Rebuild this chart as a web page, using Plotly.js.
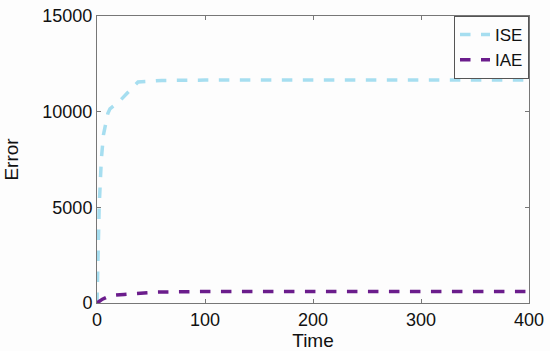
<!DOCTYPE html>
<html>
<head>
<meta charset="utf-8">
<script src="https://cdn.plot.ly/plotly-3.0.1.min.js"></script>
<style>
  html, body { margin: 0; padding: 0; background: #fdfdfd; }
  #chart { width: 550px; height: 351px; }
</style>
</head>
<body>
<div id="chart"></div>
<script>
// values
let iseTime = [0, 1, 2, 4, 6, 10, 12, 20, 30, 38, 60, 100, 200, 300, 400];
let iseError = [0, 2500, 5000, 7500, 8800, 9900, 10150, 10500, 11100, 11550, 11630, 11650, 11650, 11650, 11650];
let iaeTime = [0, 5, 10, 15, 25, 40, 55, 80, 100, 200, 300, 400];
let iaeError = [0, 200, 330, 400, 450, 520, 570, 590, 600, 600, 600, 600];
let xTicks = [0, 100, 200, 300, 400];
let yTicks = [0, 5000, 10000, 15000];

let font = 'Liberation Sans, Arial, sans-serif';

let traces = [
    {
        x: iseTime,
        y: iseError,
        name: 'ISE',
        mode: 'lines',
        line: { color: '#a6def0', width: 3.5, dash: 'dash' },
    },
    {
        x: iaeTime,
        y: iaeError,
        name: 'IAE',
        mode: 'lines',
        line: { color: '#6b1d8c', width: 3.5, dash: 'dash' },
    },
];

let axisStyle = {
    showgrid: false,
    zeroline: false,
    showline: true,
    mirror: 'ticks',
    linecolor: '#777',
    linewidth: 1,
    ticks: 'inside',
    ticklen: 4,
    tickcolor: '#777',
    tickfont: { family: font, size: 18, color: '#111' },
};

var layout = {
    width: 550,
    height: 351,
    margin: { l: 97, r: 21, t: 16, b: 48 },
    paper_bgcolor: '#fdfdfd',
    plot_bgcolor: '#fdfdfd',
    showlegend: true,
    legend: {
        x: 1,
        y: 1,
        xanchor: 'right',
        yanchor: 'top',
        bgcolor: '#fdfdfd',
        bordercolor: '#555',
        borderwidth: 1,
        tracegroupgap: 0,
        font: { family: font, size: 17, color: '#111' },
    },
    xaxis: Object.assign({}, axisStyle, {
        range: [0, 400],
        tickvals: xTicks,
        ticktext: xTicks.map(String),
        title: { text: 'Time', font: { family: font, size: 19, color: '#111' }, standoff: 0 },
    }),
    yaxis: Object.assign({}, axisStyle, {
        range: [0, 15000],
        tickvals: yTicks,
        ticktext: yTicks.map(String),
        title: { text: 'Error', font: { family: font, size: 19, color: '#111' }, standoff: 18 },
    }),
};

Plotly.newPlot('chart', traces, layout, { staticPlot: true });
</script>
</body>
</html>
